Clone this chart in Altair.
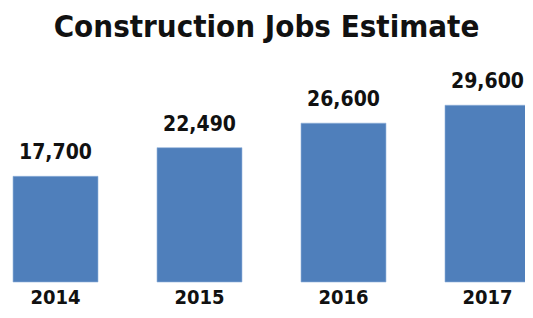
import altair as alt
import pandas as pd

years = ["2014", "2015", "2016", "2017"]
jobs = [17700, 22490, 26600, 29600]
labels = ["17,700", "22,490", "26,600", "29,600"]

df = pd.DataFrame({"year": years, "jobs": jobs, "label": labels})

FONT = "DejaVu Sans Condensed"

x = alt.X("year:N", sort=years,
          scale=alt.Scale(range=[0, 527], paddingInner=0.41, paddingOuter=0.035),
          axis=alt.Axis(title=None, labelAngle=0, domain=False, ticks=False,
                        labelFont=FONT, labelFontSize=20, labelFontWeight="bold",
                        labelColor="#111111", labelPadding=5))
y = alt.Y("jobs:Q", scale=alt.Scale(domain=[0, 35000], nice=False), axis=None)

bars = alt.Chart(df).mark_bar(color="#4F7FBB", stroke="#8fb0da", strokeWidth=0.6).encode(x=x, y=y)
text = alt.Chart(df).mark_text(baseline="bottom", dy=-13, font=FONT, fontSize=21,
                               fontWeight="bold", color="#111111").encode(
    x=alt.X("year:N", sort=years), y="jobs:Q", text="label:N")

chart = (bars + text).properties(
    width=517, height=209,
    title=alt.TitleParams("Construction Jobs Estimate", font=FONT, fontSize=31,
                          fontWeight="bold", color="#111111", anchor="middle", offset=27),
    autosize=alt.AutoSizeParams(type="none"),
    padding={"left": 0, "top": 65, "right": 0, "bottom": 28},
).configure_view(stroke=None)

chart.save("out.html", embed_options={"renderer": "svg", "actions": False})
